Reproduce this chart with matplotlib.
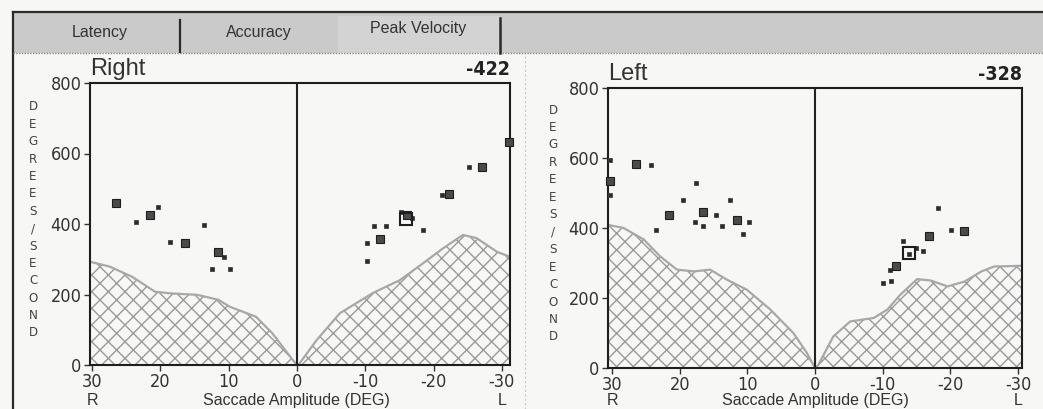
import matplotlib
matplotlib.use("Agg")
import matplotlib.pyplot as plt
from matplotlib import font_manager
from matplotlib.patches import Rectangle

# ---------------- data ----------------
tabs = ["Latency", "Accuracy", "Peak Velocity"]
panel_titles = ["Right", "Left"]
panel_scores = ["-422", "-328"]
x_ticks = [30, 20, 10, 0, -10, -20, -30]
x_tick_labels = ["30", "20", "10", "0", "-10", "-20", "-30"]
y_ticks = [0, 200, 400, 600, 800]
y_label = "DEGREES/SECOND"
x_label = "Saccade Amplitude (DEG)"

# lower normal limit envelope (hatched area)
right_env_x = [30.3, 27.4, 24.1, 20.8, 18.4, 14.6, 11.5, 9.8, 6.0, 3.6, 0.6, 0.0,
               -0.4, -2.9, -6.3, -11.1, -15.1, -18.5, -21.4, -24.3, -26.3, -29.3, -31.2]
right_env_y = [293, 279, 250, 208, 203, 199, 185, 165, 137, 90, 14, 0,
               5, 71, 147, 204, 241, 289, 331, 369, 360, 321, 307]
left_env_x = [30.6, 28.3, 25.3, 22.9, 20.4, 17.9, 15.5, 13.0, 10.1, 6.6, 3.2, 1.2, 0.0,
              -0.5, -2.7, -5.2, -8.7, -10.7, -12.6, -15.1, -17.1, -19.6, -22.1, -24.6, -26.5, -30.6]
left_env_y = [409, 400, 367, 319, 281, 276, 281, 252, 224, 167, 100, 43, 0,
              9, 90, 133, 143, 167, 209, 254, 250, 233, 247, 276, 290, 292]

# right eye saccades
right_small_x = [23.5, 20.4, 18.6, 13.6, 10.7, 12.5, 9.8,
                 -25.2, -21.2, -15.2, -16.9, -18.4, -11.3, -13.1, -10.3, -10.3]
right_small_y = [405, 447, 348, 397, 305, 273, 273,
                 563, 482, 435, 416, 383, 395, 395, 347, 295]
right_big_x = [26.5, 21.5, 16.4, 11.5, -31.1, -27.1, -22.3, -16.1, -12.2]
right_big_y = [459, 425, 347, 321, 634, 561, 484, 425, 357]
right_mean_x = [-16.0]
right_mean_y = [415]

# left eye saccades
left_small_x = [30.3, 30.3, 24.3, 23.5, 19.5, 17.6, 17.7, 16.6, 14.6, 13.8, 12.5, 9.8, 10.6,
                -18.2, -20.1, -16.0, -13.0, -14.9, -11.1, -11.3, -10.1, -13.9]
left_small_y = [595, 495, 581, 395, 481, 528, 416, 407, 438, 405, 479, 416, 384,
                457, 393, 333, 362, 343, 281, 249, 243, 325]
left_big_x = [30.3, 26.4, 21.6, 16.6, 11.5, -22.0, -16.9, -12.0]
left_big_y = [533, 583, 438, 447, 422, 392, 376, 292]
left_mean_x = [-13.9]
left_mean_y = [329]

# ---------------- fonts ----------------
names = {f.name for f in font_manager.fontManager.ttflist}
narrow = "Liberation Sans Narrow" if "Liberation Sans Narrow" in names else "DejaVu Sans"
regular = "Liberation Sans" if "Liberation Sans" in names else "DejaVu Sans"
narrow_kw = {"family": narrow}
if narrow == "DejaVu Sans":
    narrow_kw["stretch"] = "condensed"

W, H = 1043, 409
BG = "#f7f7f5"
fig = plt.figure(figsize=(W / 100, H / 100), dpi=100, facecolor=BG)

# ---------------- frame / tab bar (pixel overlay) ----------------
bg = fig.add_axes([0, 0, 1, 1], zorder=0)
bg.set_xlim(0, W)
bg.set_ylim(H, 0)
bg.axis("off")
bg.add_patch(Rectangle((13, 12), W - 13, 41, facecolor="#cacaca", edgecolor="none"))
bg.add_patch(Rectangle((338, 16), 162, 37, facecolor="#d3d3d3", edgecolor="none"))
bg.plot([13, W], [12, 12], color="#2a2a2a", lw=1.6)
bg.plot([13, 13], [12, H], color="#2a2a2a", lw=1.6)
bg.plot([13, W], [53, 53], color="#8a8a8a", lw=1.0, ls=(0, (1, 1)))
bg.plot([180, 180], [20, 52], color="#2a2a2a", lw=1.6)
bg.plot([500, 500], [18, 53], color="#2a2a2a", lw=1.8)
bg.plot([525, 525], [56, H], color="#c8c8c8", lw=0.8, ls=(0, (2, 2)))
tab_cx = [100, 259, 418]
tab_cy = [33, 33, 29]
for t, cx, cy in zip(tabs, tab_cx, tab_cy):
    bg.text(cx, cy, t, ha="center", va="center", fontsize=11.5, color="#333333",
            family=regular)

# ---------------- panels ----------------
panels = [
    dict(rect=[90 / W, 1 - 365 / H, 420 / W, 282 / H], xlim=(30.3, -31.2),
         env=(right_env_x, right_env_y),
         small=(right_small_x, right_small_y), big=(right_big_x, right_big_y),
         mean=(right_mean_x, right_mean_y), ylab_x=33, ylab_y0=107, ylab_y1=333),
    dict(rect=[608 / W, 1 - 368 / H, 414 / W, 280 / H], xlim=(30.6, -30.6),
         env=(left_env_x, left_env_y),
         small=(left_small_x, left_small_y), big=(left_big_x, left_big_y),
         mean=(left_mean_x, left_mean_y), ylab_x=553, ylab_y0=110, ylab_y1=337),
]

for i, p in enumerate(panels):
    ax = fig.add_axes(p["rect"], zorder=2)
    ax.set_facecolor(BG)
    ax.set_xlim(*p["xlim"])
    ax.set_ylim(0, 800)
    ex, ey = p["env"]
    ax.fill_between(ex, 0, ey, facecolor="none", edgecolor="#9a9a9a", hatch="xx",
                    linewidth=0, zorder=1)
    ax.plot(ex, ey, color="#a8a8a8", lw=1.6, zorder=2)
    ax.axvline(0, color="#222222", lw=1.5, zorder=3)
    sx, sy = p["small"]
    ax.plot(sx, sy, ls="none", marker="s", ms=3.0, mfc="#2b2b2b", mec="#444444",
            mew=0.6, zorder=4, clip_on=False)
    bx, by = p["big"]
    ax.plot(bx, by, ls="none", marker="s", ms=5.2, mfc="#4a4a4a", mec="#1e1e1e",
            mew=0.8, zorder=4, clip_on=False)
    mx, my = p["mean"]
    ax.plot(mx, my, ls="none", marker="s", ms=8.5, mfc="none", mec="#1e1e1e",
            mew=1.5, zorder=5, clip_on=False)

    for s in ax.spines.values():
        s.set_linewidth(1.5)
        s.set_color("#1e1e1e")
    ax.set_xticks(x_ticks)
    ax.set_xticklabels(x_tick_labels)
    ax.set_yticks(y_ticks)
    ax.tick_params(axis="both", direction="out", length=4, width=1.0,
                   colors="#333333", labelsize=13, pad=2)
    for lab in ax.get_xticklabels() + ax.get_yticklabels():
        lab.set_fontfamily(narrow)
        if narrow == "DejaVu Sans":
            lab.set_fontstretch("condensed")

    ax.text(0.0, 1.01, panel_titles[i], transform=ax.transAxes, ha="left", va="bottom",
            fontsize=17, color="#333333", family=regular)
    ax.text(1.0, 1.015, panel_scores[i], transform=ax.transAxes, ha="right", va="bottom",
            fontsize=14, fontweight="bold", color="#222222", **narrow_kw)

    # stacked vertical y label
    n = len(y_label)
    for k, ch in enumerate(y_label):
        yy = p["ylab_y0"] + (p["ylab_y1"] - p["ylab_y0"]) * k / (n - 1)
        bg.text(p["ylab_x"], yy, ch, ha="center", va="center", fontsize=9.5,
                color="#444444", **narrow_kw)

    # bottom labels
    x0 = ax.transData.transform((30, 0))[0]
    xc = ax.transData.transform((0, 0))[0]
    x1 = ax.transData.transform((-30, 0))[0]
    for xx, t in [(x0, "R"), (xc, x_label), (x1, "L")]:
        fig.text(xx / W, 1 - 393 / H, t, ha="center", va="top", fontsize=11.5,
                 color="#333333", family=regular)

fig.savefig("out.png", dpi=100, facecolor=BG)
